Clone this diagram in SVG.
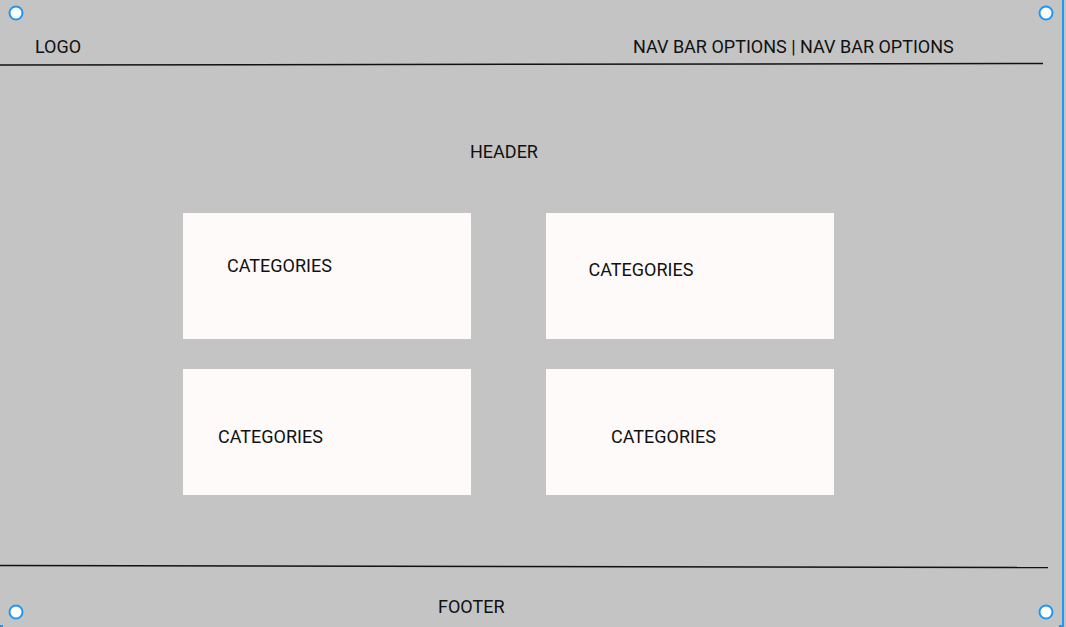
<svg xmlns="http://www.w3.org/2000/svg" width="1066" height="627" viewBox="0 0 1066 627">
<style>
.bg{fill:#c4c4c4}
.card{fill:#fffafa}
.t{font-family:Roboto,"Liberation Sans",sans-serif;font-size:18px;fill:#111}
.rule{stroke:#111;stroke-width:1.5;fill:none}
.sel{stroke:#2196f3;stroke-width:2;fill:none}
.h{fill:#fff;stroke:#2196f3;stroke-width:2}
</style>
<rect class="bg" x="0" y="0" width="1066" height="627"/>
<g id="connectors">
<line class="rule" x1="0" y1="65" x2="1043" y2="63.5"/>
<line class="rule" x1="0" y1="565.5" x2="1048" y2="567.5"/>
</g>
<g id="logo"><text class="t" x="35" y="52.5">LOGO</text></g>
<g id="nav"><text class="t" x="633" y="52.5">NAV BAR OPTIONS | NAV BAR OPTIONS</text></g>
<g id="header"><text class="t" x="470" y="158">HEADER</text></g>
<g id="cat1"><rect class="card" x="183" y="213" width="288" height="126"/><text class="t" x="227" y="272">CATEGORIES</text></g>
<g id="cat2"><rect class="card" x="546" y="213" width="288" height="126"/><text class="t" x="588.5" y="276">CATEGORIES</text></g>
<g id="cat3"><rect class="card" x="183" y="369" width="288" height="126"/><text class="t" x="218" y="442.5">CATEGORIES</text></g>
<g id="cat4"><rect class="card" x="546" y="369" width="288" height="126"/><text class="t" x="611" y="442.5">CATEGORIES</text></g>
<g id="footer"><text class="t" x="438" y="613">FOOTER</text></g>
<g id="selection">
<line class="sel" x1="1063" y1="0" x2="1063" y2="627"/>
<line class="sel" x1="1059" y1="626" x2="1064" y2="626"/>
<line class="sel" x1="0" y1="626" x2="3" y2="626"/>
<circle class="h" cx="16" cy="13" r="6.5"/>
<circle class="h" cx="1046" cy="13" r="6.5"/>
<circle class="h" cx="16" cy="612" r="6.5"/>
<circle class="h" cx="1046" cy="612" r="6.5"/>
</g>
</svg>
